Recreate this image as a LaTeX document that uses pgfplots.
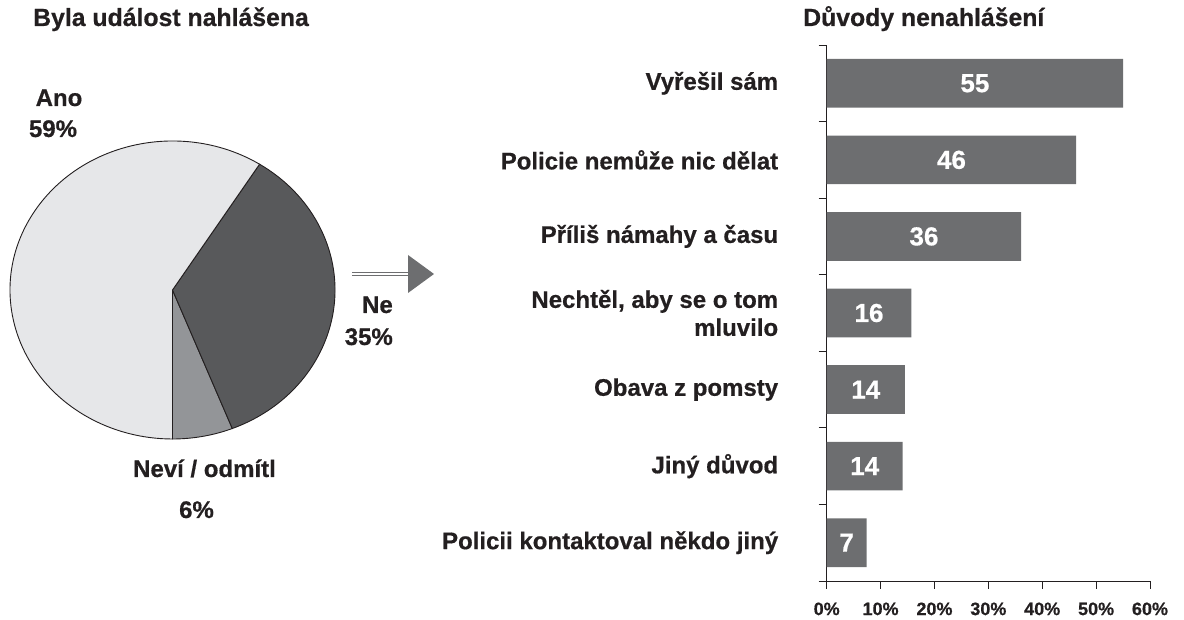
\documentclass[border=0pt]{standalone}
\usepackage{fontspec}
\setmainfont{Liberation Sans}[BoldFeatures={FakeBold=0.6}]
\usepackage{pgfplots}
\pgfplotsset{compat=1.18}

\definecolor{barc}{RGB}{109,110,112}
\definecolor{ano}{RGB}{230,231,233}
\definecolor{ne}{RGB}{88,89,91}
\definecolor{nevi}{RGB}{147,149,152}
\definecolor{txt}{RGB}{35,31,32}

\newcommand{\lab}{\fontsize{24}{28}\selectfont\bfseries}
\newcommand{\ttl}{\fontsize{24.8}{28}\selectfont\bfseries}

\begin{document}
\begin{tikzpicture}[x=1pt,y=1pt]
\path[use as bounding box] (0,0) rectangle (1184,620);

% pie shares (percent)
\def\pAno{59}
\def\pNe{35}
\def\pNevi{6}
\pgfmathsetmacro\aA{-90}
\pgfmathsetmacro\aB{\aA+3.6*\pNevi}
\pgfmathsetmacro\aC{\aB+3.6*\pNe}
\pgfmathsetmacro\aD{\aC+3.6*\pAno}

\begin{axis}[
    at={(172.5pt,330pt)}, anchor=center,
    scale only axis, width=325pt, height=298pt,
    xmin=-1, xmax=1, ymin=-1, ymax=1,
    hide axis, clip=false,
]
  \filldraw[fill=nevi, draw=txt, line width=0.9pt] (axis cs:0,0) -- (axis cs:{cos(\aA)},{sin(\aA)})
     arc[start angle=\aA, end angle=\aB, x radius=162.5pt, y radius=149pt] -- cycle;
  \filldraw[fill=ne, draw=txt, line width=0.9pt] (axis cs:0,0) -- (axis cs:{cos(\aB)},{sin(\aB)})
     arc[start angle=\aB, end angle=\aC, x radius=162.5pt, y radius=149pt] -- cycle;
  \filldraw[fill=ano, draw=txt, line width=0.9pt] (axis cs:0,0) -- (axis cs:{cos(\aC)},{sin(\aC)})
     arc[start angle=\aC, end angle=\aD, x radius=162.5pt, y radius=149pt] -- cycle;
\end{axis}

% pie labels
\node[anchor=base west, text=txt, font=\ttl, inner sep=0] at (33,594) {Byla událost nahlášena};
\node[anchor=base, text=txt, font=\lab, inner sep=0] at (59,514) {Ano};
\node[anchor=base, text=txt, font=\lab, inner sep=0] at (53,483) {59\%};
\node[anchor=base east, text=txt, font=\lab, inner sep=0] at (393,307) {Ne};
\node[anchor=base east, text=txt, font=\lab, inner sep=0] at (393,275) {35\%};
\node[anchor=base, text=txt, font=\lab, inner sep=0] at (204.5,143) {Neví / odmítl};
\node[anchor=base, text=txt, font=\lab, inner sep=0] at (196.5,102) {6\%};

% arrow
\draw[barc, line width=1.3pt, double=white, double distance=1.4pt] (352,346) -- (408,346);
\fill[barc] (408,365) -- (434,346) -- (408,327) -- cycle;

\node[anchor=base west, text=txt, font=\ttl, inner sep=0] at (803,594) {Důvody nenahlášení};

\begin{axis}[
    at={(826.7pt,39pt)}, anchor=south west,
    scale only axis, width=323.3pt, height=536pt,
    xbar, bar width=48.7pt,
    xmin=0, xmax=60, ymin=0.5, ymax=7.5,
    axis lines*=left,
    axis line style={draw=txt, line width=0.9pt},
    tick align=outside, major tick length=8pt,
    tick style={draw=txt, line width=0.9pt},
    xtick={0,10,...,60},
    xticklabel={\pgfmathprintnumber[assume math mode=true]{\tick}\%},
    xticklabel style={font=\fontsize{18}{20}\selectfont\bfseries, text=txt, yshift=-10pt},
    ytick={0.5,1.5,...,7.5}, yticklabels={},
    extra y ticks={1,2,...,7},
    extra y tick labels={Policii kontaktoval někdo jiný, Jiný důvod, Obava z pomsty,
        {Nechtěl, aby se o tom\\mluvilo}, Příliš námahy a času,
        Policie nemůže nic dělat, Vyřešil sám},
    extra y tick style={tick style={draw=none},
        yticklabel style={align=right, font=\lab, text=txt, xshift=-37pt}},
    point meta=explicit symbolic,
    nodes near coords,
    visualization depends on={rawx \as \rawx},
    every node near coord/.append style={anchor=center, text=white,
        font=\fontsize{26}{28}\selectfont\bfseries, xshift={-2.694pt*\rawx}},
]
  \addplot[fill=barc, draw=none] coordinates {
    (7.4,1) [7]
    (14.1,2) [14]
    (14.5,3) [14]
    (15.7,4) [16]
    (36.1,5) [36]
    (46.3,6) [46]
    (55,7) [55]
  };
\end{axis}
\end{tikzpicture}
\end{document}
